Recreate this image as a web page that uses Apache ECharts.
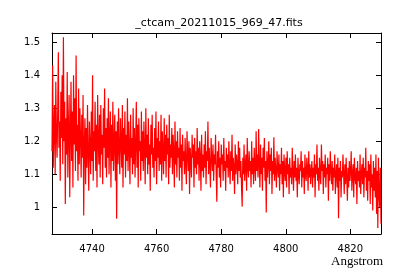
<!DOCTYPE html>
<html>
<head>
<meta charset="utf-8">
<script src="https://cdn.jsdelivr.net/npm/echarts@6/dist/echarts.min.js"></script>
<style>html,body{margin:0;padding:0;background:#fff}#c{width:400px;height:280px}</style>
</head>
<body>
<div id="c"></div>
<script>
// Spectrum header-like grid (start wavelength and dispersion, Angstrom)
const waveStart = 4727.6;
const waveStep = 0.19634;
const xTickValues = [4740, 4760, 4780, 4800, 4820];
const yTickValues = [1, 1.1, 1.2, 1.3, 1.4, 1.5];
const flux = [
  1.17,1.43,1.12,1.24,1.31,1.10,1.38,1.22,1.15,1.29,
  1.47,1.18,1.26,1.08,1.35,1.21,1.40,1.13,1.515,1.20,
  1.32,1.01,1.27,1.16,1.41,1.09,1.24,1.34,1.03,1.22,
  1.38,1.14,1.29,1.06,1.40,1.19,1.33,1.11,1.46,1.17,
  1.25,1.08,1.36,1.13,1.30,1.21,1.09,1.28,1.15,1.34,
  0.975,1.19,1.27,1.07,1.24,1.12,1.31,1.16,1.05,1.26,
  1.18,1.10,1.29,1.14,1.40,1.08,1.23,1.17,1.32,1.11,
  1.25,1.06,1.34,1.20,1.13,1.28,1.09,1.31,1.16,1.22,
  1.07,1.30,1.18,1.36,1.12,1.24,1.09,1.27,1.15,1.33,
  1.10,1.21,1.29,1.06,1.25,1.14,1.32,1.11,1.19,1.28,
  1.08,1.23,0.965,1.26,1.13,1.30,1.17,1.10,1.27,1.20,
  1.12,1.31,1.06,1.24,1.16,1.29,1.09,1.22,1.14,1.33,
  1.11,1.26,1.18,1.07,1.28,1.15,1.21,1.10,1.30,1.13,
  1.24,1.09,1.19,1.32,1.12,1.25,1.06,1.27,1.17,1.20,
  1.08,1.29,1.14,1.23,1.11,1.26,1.18,1.07,1.30,1.15,
  1.22,1.10,1.27,1.13,1.19,1.05,1.25,1.16,1.28,1.12,
  1.18,1.09,1.24,1.14,1.29,1.07,1.21,1.15,1.26,1.11,
  1.20,1.13,1.28,1.08,1.23,1.17,1.10,1.27,1.14,1.22,
  1.09,1.25,1.16,1.21,1.07,1.28,1.12,1.19,1.15,1.24,
  1.10,1.22,1.17,1.06,1.26,1.13,1.20,1.09,1.23,1.15,
  1.18,1.08,1.24,1.12,1.19,1.05,1.22,1.14,1.17,1.10,
  1.21,1.13,1.07,1.23,1.16,1.11,1.20,1.04,1.18,1.14,
  1.09,1.22,1.15,1.19,1.06,1.21,1.12,1.17,1.10,1.24,
  1.13,1.18,1.08,1.20,1.15,1.05,1.22,1.11,1.16,1.09,
  1.19,1.12,1.23,1.07,1.17,1.14,1.26,1.10,1.18,1.13,
  1.06,1.21,1.15,1.11,1.19,1.08,1.16,1.13,1.22,1.10,
  1.017,1.17,1.12,1.20,1.09,1.15,1.06,1.19,1.13,1.16,
  1.08,1.21,1.11,1.14,1.05,1.18,1.12,1.16,1.09,1.20,
  1.13,1.07,1.17,1.11,1.22,1.08,1.15,1.12,1.04,1.19,
  1.10,1.16,1.13,1.07,1.20,1.11,1.18,1.09,1.14,1.06,
  1.002,1.15,1.10,1.19,1.08,1.13,1.16,1.05,1.21,1.12,
  1.09,1.17,1.11,1.14,1.06,1.20,1.10,1.15,1.07,1.18,
  1.12,1.08,1.23,1.11,1.16,1.09,1.237,1.13,1.06,1.19,
  1.10,1.15,1.05,1.18,1.12,1.21,1.08,1.14,0.984,1.17,
  1.09,1.13,1.20,1.07,1.16,1.11,1.18,1.04,1.14,1.10,
  1.212,1.08,1.15,1.11,1.06,1.17,1.12,1.09,1.16,1.05,
  1.13,1.10,1.18,1.07,1.14,1.03,1.16,1.11,1.08,1.15,
  1.06,1.17,1.10,1.13,1.04,1.15,1.09,1.12,1.07,1.18,
  1.11,1.05,1.14,1.09,1.16,1.08,1.12,1.03,1.15,1.10,
  1.07,1.13,1.11,1.17,1.06,1.14,1.09,1.12,1.04,1.16,
  1.10,1.08,1.15,1.12,1.05,1.17,1.09,1.13,1.07,1.11,
  1.14,1.06,1.12,1.09,1.16,1.03,1.13,1.10,1.19,1.08,
  1.12,1.05,1.15,1.10,1.07,1.19,1.11,1.14,1.04,1.13,
  1.09,1.16,1.06,1.12,1.10,1.15,1.02,1.13,1.08,1.17,
  1.11,1.07,1.14,1.05,1.12,1.09,1.16,1.04,1.10,1.13,
  1.06,1.15,0.967,1.12,1.08,1.14,1.03,1.11,1.09,1.16,
  1.10,1.04,1.13,1.07,1.15,1.09,1.02,1.12,1.06,1.14,
  1.08,1.11,1.17,1.05,1.10,1.13,1.03,1.15,1.09,1.07,
  1.12,1.01,1.14,1.08,1.11,1.06,1.16,1.04,1.10,1.13,
  1.07,1.15,1.03,1.12,1.09,1.18,1.05,1.11,1.02,1.14,
  1.08,1.13,1.01,1.16,1.06,1.10,0.99,1.14,1.05,1.12,
  1.03,1.16,0.98,1.11,0.937,1.15,1.04,1.00,1.12,0.95
];
const titleText = '_ctcam_20211015_969_47.fits';
const xName = 'Angstrom';

const xMin = 4727.6, xMax = 4829.5, yMin = 0.919, yMax = 1.528;
const data = flux.map((v, i) => [waveStart + i * waveStep, v]);

const chart = echarts.init(document.getElementById('c'), null, {renderer: 'canvas'});
const font = 'DejaVu Sans';
const axisLine = {show: true, lineStyle: {color: '#000', width: 1}};
const tick = {show: true, inside: true, length: 5, lineStyle: {color: '#000'}};
chart.setOption({
  animation: false,
  backgroundColor: '#fff',
  title: {
    text: titleText, left: 214, top: 13, textAlign: 'center',
    textStyle: {fontFamily: font, fontSize: 11, fontWeight: 'normal', color: '#000'}
  },
  grid: {left: 52, right: 19, top: 33, bottom: 46},
  xAxis: [{
    type: 'value', min: xMin, max: xMax, splitNumber: 5,
    axisLine: axisLine, axisTick: tick, splitLine: {show: false},
    axisLabel: {show: true, fontFamily: font, fontSize: 10, color: '#000', margin: 10,
      showMinLabel: false, showMaxLabel: false,
      formatter: v => xTickValues.includes(Math.round(v)) && Math.abs(v - Math.round(v)) < 1e-6 ? String(Math.round(v)) : ''}
  }, {
    type: 'value', position: 'top', min: xMin, max: xMax, splitNumber: 5,
    axisLine: axisLine, axisTick: tick, splitLine: {show: false}, axisLabel: {show: false}
  }],
  yAxis: [{
    type: 'value', min: yMin, max: yMax, splitNumber: 6,
    axisLine: axisLine, axisTick: tick, splitLine: {show: false},
    axisLabel: {show: true, fontFamily: font, fontSize: 10, color: '#000', margin: 12,
      showMinLabel: false, showMaxLabel: false,
      formatter: v => yTickValues.some(t => Math.abs(t - v) < 1e-6) ? String(+v.toFixed(1)) : ''}
  }, {
    type: 'value', position: 'right', min: yMin, max: yMax, splitNumber: 6,
    axisLine: axisLine, axisTick: tick, splitLine: {show: false}, axisLabel: {show: false}
  }],
  graphic: [{
    type: 'text', right: 17, top: 255,
    style: {text: xName, font: '13px "Liberation Serif"', fill: '#000'}
  }],
  series: [{
    type: 'line', data: data, showSymbol: false, symbol: 'none',
    lineStyle: {color: '#ff0000', width: 1.2}, itemStyle: {color: '#ff0000'}, clip: true
  }]
});
</script>
</body>
</html>
